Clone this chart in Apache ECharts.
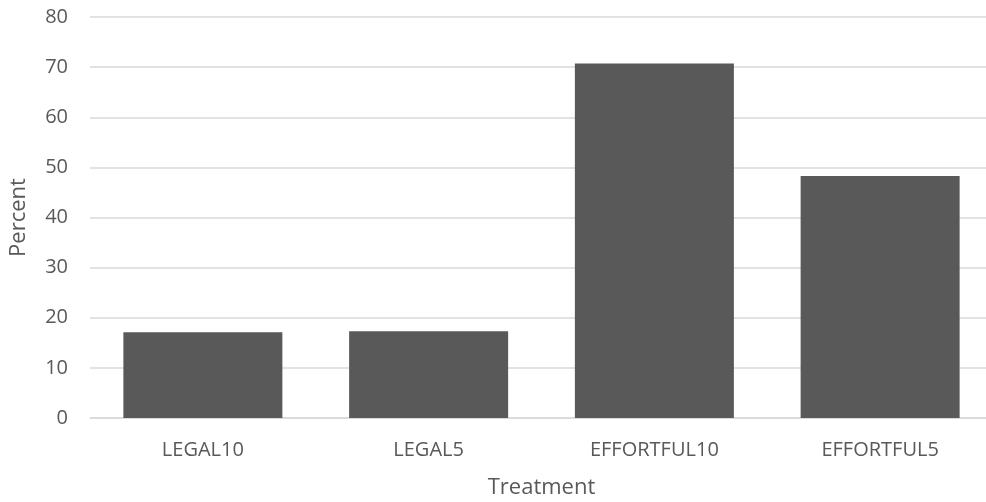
<!DOCTYPE html>
<html><head><meta charset="utf-8">
<script src="https://cdn.jsdelivr.net/npm/echarts@6/dist/echarts.min.js"></script>
<style>html,body{margin:0;padding:0;background:#fff}#c{width:986px;height:502px}</style>
</head><body><div id="c"></div>
<script>
const categories = ["LEGAL10", "LEGAL5", "EFFORTFUL10", "EFFORTFUL5"];
const percentValues = [17.1, 17.3, 70.7, 48.3];
const yTicks = [0, 10, 20, 30, 40, 50, 60, 70, 80];

const chart = echarts.init(document.getElementById('c'), null, {renderer: 'canvas'});
const txt = '#595959';
chart.setOption({
  animation: false,
  grid: {left: 90, right: -7, top: 17, bottom: 84, containLabel: false, outerBoundsMode: 'none'},
  xAxis: {
    type: 'category', data: categories,
    name: 'Treatment', nameLocation: 'middle', nameGap: 59,
    nameTextStyle: {color: txt, fontSize: 22, fontFamily: 'Open Sans'},
    axisLine: {show: true, lineStyle: {color: '#d9d9d9', width: 1.5}},
    axisTick: {show: false},
    axisLabel: {color: txt, fontSize: 20, fontFamily: 'Open Sans', margin: 22}
  },
  yAxis: {
    type: 'value', min: yTicks[0], max: yTicks[yTicks.length-1], interval: 10,
    name: 'Percent', nameLocation: 'middle', nameGap: 60,
    nameTextStyle: {color: txt, fontSize: 22, fontFamily: 'Open Sans'},
    axisLine: {show: false}, axisTick: {show: false},
    axisLabel: {color: txt, fontSize: 20, fontFamily: 'Open Sans', margin: 22},
    splitLine: {lineStyle: {color: '#d9d9d9', width: 1.5}}
  },
  series: [{
    type: 'bar', data: percentValues, barWidth: 159,
    itemStyle: {color: '#595959'}
  }]
});
</script></body></html>
